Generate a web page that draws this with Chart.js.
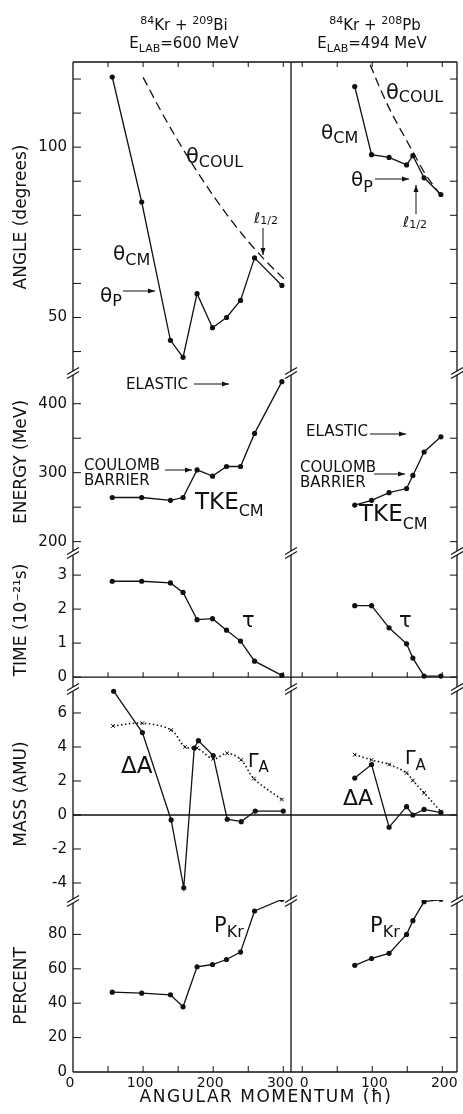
<!DOCTYPE html>
<html lang="en">
<head>
<meta charset="UTF-8">
<title>Kr + Bi / Kr + Pb</title>
<script src="https://cdn.jsdelivr.net/npm/chart.js"></script>
<style>
  body { margin: 0; background: #fff; }
  #fig { display: block; }
</style>
</head>
<body>
<canvas id="fig" width="463" height="1114"></canvas>
<script>
// angular momentum (hbar) of the measured bins
const lLeft  = [56, 98, 139, 157, 177, 199, 219, 239, 259, 298];
const lRight = [75, 99, 124, 149, 158, 174, 198];

// ANGLE (degrees)
const thetaCmLeft  = [120.6, 83.9, 43.3, 38.3, 57, 47, 50, 55, 67.5, 59.4];
const thetaCmRight = [117.8, 97.8, 97.0, 94.8, 97.5, 91.0, 86.1];
const coulLeftL  = [100, 125, 150, 175, 200, 225, 250, 275, 301];
const coulLeft   = [120.5, 110.8, 101.8, 93.5, 85.8, 78.7, 72.3, 66.6, 61.3];
const coulRightL = [97, 110, 125, 140, 156, 174, 196];
const coulRight  = [124.2, 117.8, 111.1, 105.3, 99.4, 92.7, 86.3];

// ENERGY (MeV)
const tkeLeft  = [264, 264, 260, 264, 304, 295, 309, 309, 357, 432];
const tkeRight = [253, 260, 271, 277, 296, 330, 352];

// TIME (10^-21 s)
const tauLeft  = [2.82, 2.82, 2.77, 2.49, 1.69, 1.72, 1.38, 1.06, 0.47, 0.05];
const tauRight = [2.1, 2.1, 1.45, 0.98, 0.56, 0.03, 0.03];

// MASS (AMU)
const dALeftL = [58, 99, 140, 158, 173, 179, 200, 220, 240, 260, 300];
const dALeft  = [7.28, 4.85, -0.29, -4.28, 3.94, 4.37, 3.5, -0.25, -0.39, 0.23, 0.23];
const dARight = [2.17, 2.97, -0.72, 0.49, 0.0, 0.33, 0.14];
const gALeftL = [57, 99, 140, 160, 177, 200, 220, 240, 258, 298];
const gALeft  = [5.24, 5.4, 5.0, 4.0, 3.94, 3.3, 3.63, 3.24, 2.14, 0.91];
const gARight = [3.55, 3.24, 2.97, 2.47, 2.03, 1.30, 0.2];

// PERCENT
const pKrLeft  = [46.4, 45.8, 44.9, 37.9, 61.2, 62.5, 65.4, 69.7, 93.6, 100.3];
const pKrRight = [62, 66, 69, 80, 88, 99, 100.3];

// tick marks and labels
const xTicksLeft  = [50, 100, 150, 200, 250, 300];
const xTicksRight = [0, 50, 100, 150, 200];
const xLabelsLeft  = [0, 100, 200, 300];
const xLabelsRight = [0, 100, 200];
const angTicks  = [40, 50, 60, 70, 80, 90, 100, 110, 120];
const angLabels = [50, 100];
const enTicks   = [200, 250, 300, 350, 400];
const enLabels  = [200, 300, 400];
const timeTicks = [0, 1, 2, 3];
const massTicks = [-4, -2, 0, 2, 4, 6];
const pctTicks  = [20, 40, 60, 80];
const pctLabels = [0, 20, 40, 60, 80];

const INK = '#111';
const FONT = '"DejaVu Sans", sans-serif';

const xy = (xs, ys) => xs.map((x, i) => ({x: x, y: ys[i]}));

function solid(xs, ys, xId, yId) {
    return {
        data: xy(xs, ys), xAxisID: xId, yAxisID: yId,
        borderColor: INK, borderWidth: 1.3, tension: 0,
        pointRadius: 2.6, pointBackgroundColor: INK, pointBorderWidth: 0
    };
}
function dashed(xs, ys, xId, yId) {
    return {
        data: xy(xs, ys), xAxisID: xId, yAxisID: yId,
        borderColor: INK, borderWidth: 1.3, borderDash: [9, 5],
        cubicInterpolationMode: 'monotone', pointRadius: 0
    };
}
function dotted(xs, ys, xId, yId) {
    return {
        data: xy(xs, ys), xAxisID: xId, yAxisID: yId,
        borderColor: INK, borderWidth: 1.6, borderDash: [1.5, 2.5], tension: 0.35,
        pointStyle: 'crossRot', pointRadius: 2.6, pointBorderColor: INK, pointBorderWidth: 1
    };
}

// fixed box sizes, no label overhang padding
function noPad(s) {
    s.paddingLeft = 0; s.paddingRight = 0; s.paddingTop = 0; s.paddingBottom = 0;
}

function yAxis(weight, stackWeight, min, max, labels, title) {
    return {
        type: 'linear', position: 'left', stack: 'rows', stackWeight: stackWeight, weight: weight,
        min: min, max: max,
        afterBuildTicks: s => { s.ticks = labels.map(v => ({value: v})); },
        afterFit: s => { s.width = 73; noPad(s); },
        grid: { display: false, drawTicks: false },
        border: { display: false },
        ticks: {
            autoSkip: false, padding: 6, color: INK,
            font: { family: FONT, size: 15 },
            callback: v => String(v)
        },
        title: {
            display: true, text: title, color: INK,
            font: { family: FONT, size: 17 }, padding: { top: 11, bottom: 0 }
        }
    };
}
function xAxis(weight, stackWeight, min, max, labels, shift) {
    return {
        type: 'linear', position: 'bottom', stack: 'cols', stackWeight: stackWeight, weight: weight,
        min: min, max: max,
        afterBuildTicks: s => { s.ticks = labels.map(v => ({value: v})); },
        afterFit: s => { s.height = 42; noPad(s); },
        grid: { display: false, drawTicks: false },
        border: { display: false },
        ticks: {
            autoSkip: false, maxRotation: 0, padding: 3, labelOffset: shift, color: INK,
            font: { family: FONT, size: 14 },
            callback: v => String(v)
        }
    };
}

function line(ctx, x1, y1, x2, y2) {
    ctx.beginPath();
    ctx.moveTo(x1, y1);
    ctx.lineTo(x2, y2);
    ctx.stroke();
}
function arrow(ctx, x1, y1, x2, y2) {
    line(ctx, x1, y1, x2, y2);
    const a = Math.atan2(y2 - y1, x2 - x1);
    ctx.beginPath();
    ctx.moveTo(x2, y2);
    ctx.lineTo(x2 - 7 * Math.cos(a) + 2.5 * Math.sin(a), y2 - 7 * Math.sin(a) - 2.5 * Math.cos(a));
    ctx.lineTo(x2 - 7 * Math.cos(a) - 2.5 * Math.sin(a), y2 - 7 * Math.sin(a) + 2.5 * Math.cos(a));
    ctx.closePath();
    ctx.fill();
}
// parts: [text, size, dy, italic]
function rich(ctx, x, y, parts, center) {
    const fontOf = p => (p[3] ? 'italic ' : '') + p[1] + 'px ' + FONT;
    let w = 0;
    for (const p of parts) { ctx.font = fontOf(p); w += ctx.measureText(p[0]).width; }
    let cx = center ? x - w / 2 : x;
    for (const p of parts) {
        ctx.font = fontOf(p);
        ctx.fillText(p[0], cx, y + (p[2] || 0));
        cx += ctx.measureText(p[0]).width;
    }
}
function brk(ctx, x, y) {
    ctx.fillStyle = '#fff';
    ctx.beginPath();
    ctx.moveTo(x - 5, y + 2); ctx.lineTo(x + 5, y - 4);
    ctx.lineTo(x + 5, y); ctx.lineTo(x - 5, y + 6);
    ctx.closePath();
    ctx.fill();
    ctx.fillStyle = INK;
    line(ctx, x - 6, y + 2.5, x + 6, y - 4.5);
    line(ctx, x - 6, y + 6.5, x + 6, y - 0.5);
}

const decor = {
    id: 'decor',
    beforeDatasetsDraw(chart) {
        const {ctx, chartArea: a, scales: s} = chart;
        const xMid = s.xR.left;
        ctx.save();
        ctx.strokeStyle = INK;
        ctx.lineWidth = 1.3;
        line(ctx, a.left, a.top, a.left, a.bottom);
        line(ctx, xMid, a.top, xMid, a.bottom);
        line(ctx, a.right, a.top, a.right, a.bottom);
        line(ctx, a.left, a.top, a.right, a.top);
        line(ctx, a.left, a.bottom, a.right, a.bottom);
        const yT0 = s.yTime.getPixelForValue(0);
        const yM0 = s.yMass.getPixelForValue(0);
        line(ctx, a.left, yT0, a.right, yT0);
        line(ctx, a.left, yM0, a.right, yM0);

        ctx.lineWidth = 1;
        [['xL', xTicksLeft], ['xR', xTicksRight]].forEach(([id, vals]) => {
            vals.forEach(v => {
                const px = s[id].getPixelForValue(v);
                line(ctx, px, a.top, px, a.top + 5);
                line(ctx, px, yT0, px, yT0 - 5);
                line(ctx, px, a.bottom, px, a.bottom - 6);
            });
        });
        [['yAng', angTicks], ['yEn', enTicks], ['yTime', timeTicks], ['yMass', massTicks], ['yPct', pctTicks]]
            .forEach(([id, vals]) => {
                vals.forEach(v => {
                    const py = s[id].getPixelForValue(v);
                    line(ctx, a.left, py, a.left + 8, py);
                    line(ctx, a.right, py, a.right - 7, py);
                });
            });
        ctx.restore();
    },
    afterDatasetsDraw(chart) {
        const {ctx, chartArea: a, scales: s} = chart;
        const xMid = s.xR.left;
        ctx.save();
        ctx.strokeStyle = INK;
        ctx.fillStyle = INK;
        ctx.lineWidth = 1.1;
        [s.yAng.bottom, s.yEn.bottom, s.yTime.bottom, s.yMass.bottom].forEach(y => {
            [a.left, xMid, a.right].forEach(x => brk(ctx, x, y));
        });

        ctx.fillStyle = INK;
        ctx.textAlign = 'left';
        ctx.textBaseline = 'alphabetic';
        ctx.lineWidth = 1;

        // headers
        rich(ctx, 184, 30, [['84', 11, -6], ['Kr + ', 15], ['209', 11, -6], ['Bi', 15]], true);
        rich(ctx, 184, 48, [['E', 15], ['LAB', 11, 4], ['=600 MeV', 15]], true);
        rich(ctx, 375, 30, [['84', 11, -6], ['Kr + ', 15], ['208', 11, -6], ['Pb', 15]], true);
        rich(ctx, 372, 48, [['E', 15], ['LAB', 11, 4], ['=494 MeV', 15]], true);

        // angle, left
        rich(ctx, 186, 163, [['θ', 21], ['COUL', 16, 4]]);
        rich(ctx, 113, 260, [['θ', 20], ['CM', 16, 5]]);
        rich(ctx, 100, 302, [['θ', 20], ['P', 16, 4]]);
        arrow(ctx, 123, 291, 155, 291);
        rich(ctx, 254, 223, [['ℓ', 15, 0, true], ['1/2', 11, 1]]);
        arrow(ctx, 263, 228, 263, 255);
        // angle, right
        rich(ctx, 386, 99, [['θ', 21], ['COUL', 16, 3]]);
        rich(ctx, 321, 139, [['θ', 20], ['CM', 16, 4]]);
        rich(ctx, 351, 186, [['θ', 20], ['P', 16, 6]]);
        arrow(ctx, 375, 179, 409, 179);
        rich(ctx, 403, 227, [['ℓ', 15, 0, true], ['1/2', 11, 1]]);
        arrow(ctx, 416, 214, 416, 185);

        // energy
        ctx.font = '15px ' + FONT;
        ctx.fillText('ELASTIC', 126, 389);
        arrow(ctx, 194, 384, 229, 384);
        ctx.fillText('COULOMB', 84, 470);
        ctx.fillText('BARRIER', 84, 485);
        arrow(ctx, 165, 470, 192, 470);
        rich(ctx, 195, 509, [['TKE', 23], ['CM', 16, 7]]);
        ctx.font = '15px ' + FONT;
        ctx.fillText('ELASTIC', 306, 436);
        arrow(ctx, 370, 434, 406, 434);
        ctx.fillText('COULOMB', 300, 472);
        ctx.fillText('BARRIER', 300, 487);
        arrow(ctx, 374, 474, 405, 474);
        rich(ctx, 359, 521, [['TKE', 23], ['CM', 16, 8]]);

        // time
        rich(ctx, 242, 627, [['τ', 21]]);
        rich(ctx, 399, 627, [['τ', 21]]);

        // mass
        rich(ctx, 121, 773, [['ΔA', 23]]);
        rich(ctx, 248, 767, [['Γ', 19], ['A', 15, 5]]);
        rich(ctx, 343, 805, [['ΔA', 22]]);
        rich(ctx, 405, 764, [['Γ', 19], ['A', 15, 6]]);

        // percent
        rich(ctx, 214, 932, [['P', 21], ['Kr', 16, 5]]);
        rich(ctx, 370, 932, [['P', 21], ['Kr', 16, 5]]);

        // common x title
        ctx.letterSpacing = '1.5px';
        rich(ctx, 266, 1102, [['ANGULAR MOMENTUM (ħ)', 17]], true);
        ctx.restore();
    }
};

new Chart(document.getElementById('fig'), {
    type: 'line',
    data: {
        datasets: [
            solid(lLeft, thetaCmLeft, 'xL', 'yAng'),
            solid(lRight, thetaCmRight, 'xR', 'yAng'),
            dashed(coulLeftL, coulLeft, 'xL', 'yAng'),
            dashed(coulRightL, coulRight, 'xR', 'yAng'),
            solid(lLeft, tkeLeft, 'xL', 'yEn'),
            solid(lRight, tkeRight, 'xR', 'yEn'),
            solid(lLeft, tauLeft, 'xL', 'yTime'),
            solid(lRight, tauRight, 'xR', 'yTime'),
            solid(dALeftL, dALeft, 'xL', 'yMass'),
            solid(lRight, dARight, 'xR', 'yMass'),
            dotted(gALeftL, gALeft, 'xL', 'yMass'),
            dotted(lRight, gARight, 'xR', 'yMass'),
            solid(lLeft, pKrLeft, 'xL', 'yPct'),
            solid(lRight, pKrRight, 'xR', 'yPct')
        ]
    },
    options: {
        responsive: false,
        animation: false,
        layout: { padding: { top: 62, right: 6, left: 0, bottom: 0 } },
        plugins: { legend: { display: false }, tooltip: { enabled: false } },
        scales: {
            xL: xAxis(0, 218, 0, 311, xLabelsLeft, -3),
            xR: xAxis(1, 166, -16, 221, xLabelsRight, 2),
            yAng:  yAxis(5, 310, 34, 125, angLabels, 'ANGLE (degrees)'),
            yEn:   yAxis(4, 180, 185, 446, enLabels, 'ENERGY (MeV)'),
            yTime: yAxis(3, 136, -0.32, 3.68, timeTicks, 'TIME (10⁻²¹s)'),
            yMass: yAxis(2, 212, -5, 7.47, massTicks, 'MASS (AMU)'),
            yPct:  yAxis(1, 172, 0, 100, pctLabels, 'PERCENT')
        }
    },
    plugins: [decor]
});
</script>
</body>
</html>
